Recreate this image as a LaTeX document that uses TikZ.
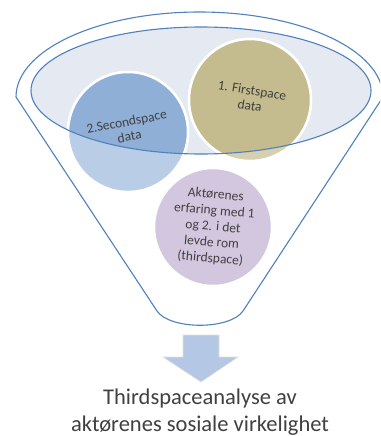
\documentclass[tikz,border=0pt]{standalone}
\usepackage{fontspec}
\setmainfont{Carlito}
\definecolor{funnelblue}{RGB}{79,129,189}
\definecolor{ellfill}{RGB}{228,233,242}
\definecolor{secdark}{RGB}{143,175,215}
\definecolor{seclight}{RGB}{185,205,230}
\definecolor{firstdark}{RGB}{196,188,143}
\definecolor{firstlight}{RGB}{214,207,176}
\definecolor{thirdfill}{RGB}{211,199,224}
\definecolor{arrowfill}{RGB}{180,199,228}
\definecolor{txtgray}{RGB}{64,64,64}
\tikzset{
  outline/.style={draw=funnelblue, line width=1.1pt},
  bubble/.style={draw=white, line width=2.5pt},
  bubbletext/.style={text=txtgray, align=center, font=\fontsize{13.5}{15}\selectfont, inner sep=0pt},
}
\begin{document}
\begin{tikzpicture}[x=1pt,y=-1pt]
\useasboundingbox (0,0) rectangle (380,436);
\begin{scope}
\clip (0,0) rectangle (380,436);
% funnel
\draw[outline, fill=white] (16,97) arc[start angle=180, end angle=360, x radius=183.5, y radius=85]
  -- (243,311) .. controls (230,330) and (170,330) .. (157,311) -- cycle;
% inner ellipse fill
\fill[ellfill] (201,90.5) ellipse[x radius=170, y radius=63.5];
% circles light
\filldraw[bubble, fill=seclight] (128,132) circle[radius=60];
\filldraw[bubble, fill=firstlight] (250,100) circle[radius=61];
% darker parts inside ellipse
\begin{scope}
\clip (201,90.5) ellipse[x radius=170, y radius=63.5];
\filldraw[bubble, fill=secdark] (128,132) circle[radius=60];
\filldraw[bubble, fill=firstdark] (250,100) circle[radius=61];
\end{scope}
% inner ellipse outline
\draw[outline] (201,90.5) ellipse[x radius=170, y radius=63.5];
% third circle
\filldraw[bubble, fill=thirdfill] (213,227) circle[radius=59];
\end{scope}
% texts
\node[bubbletext, rotate=11] (sectext) at (128,129) {2.Secondspace\\data};
\node[bubbletext, rotate=-9] (firsttext) at (251,98) {1. Firstspace\\data};
\node[bubbletext, rotate=-5, font=\fontsize{13.5}{16}\selectfont] (thirdtext) at (213,227)
  {Aktørenes\\erfaring med 1\\og 2. i det\\levde rom\\(thirdspace)};
% arrow
\filldraw[draw=black!12, line width=0.6pt, fill=arrowfill] (183,335) -- (219,335) -- (219,357) -- (238,357)
  -- (201,382) -- (163,357) -- (183,357) -- cycle;
% bottom text
\node[text=txtgray, align=center, font=\fontsize{22.5}{27}\selectfont, inner sep=0pt] (result) at (200,412)
  {Thirdspaceanalyse av\\aktørenes sosiale virkelighet};
\end{tikzpicture}
\end{document}
